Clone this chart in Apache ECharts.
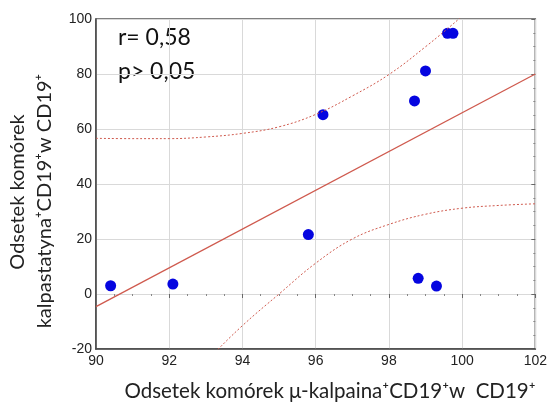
<!DOCTYPE html>
<html>
<head>
<meta charset="utf-8">
<script src="https://cdn.jsdelivr.net/npm/echarts@6/dist/echarts.min.js"></script>
<style>html,body{margin:0;padding:0;background:#fff;}#c{width:550px;height:403px;}</style>
</head>
<body>
<div id="c"></div>
<script>
var xTicks = [90, 92, 94, 96, 98, 100, 102];
var yTicks = [-20, 0, 20, 40, 60, 80, 100];
var pointsX = [90.4, 92.1, 95.8, 96.2, 98.7, 99.0, 99.6, 99.75, 98.8, 99.3];
var pointsY = [3.0, 3.6, 21.6, 65.2, 70.2, 81.1, 94.8, 94.8, 5.7, 2.9];
var fitX = [90, 102];
var fitY = [-4.6, 80];
var upperX = [90, 91, 92, 93, 94, 95, 96, 97, 98, 99, 100, 100.5];
var upperY = [56.6, 56.5, 56.5, 57.1, 58.4, 60.8, 65.3, 72.0, 79.8, 89.9, 101, 107];
var lowerX = [92, 93, 94, 95, 96, 97, 98, 99, 100, 101, 102];
var lowerY = [-37.5, -24.5, -11.5, 0.0, 11.2, 20.0, 25.3, 29.0, 31.2, 32.2, 32.8];
var statsText = ['r= 0,58', 'p> 0,05'];
var xTitle = 'Odsetek komórek μ-kalpaina⁺CD19⁺w  CD19⁺';
var yTitle = ['Odsetek komórek', 'kalpastatyna⁺CD19⁺w CD19⁺'];

function zip(a, b) { return a.map(function (v, i) { return [v, b[i]]; }); }

var chart = echarts.init(document.getElementById('c'), null, {renderer: 'canvas'});
var lineColor = '#cf5a4e';
var gridLine = {show: true, lineStyle: {color: '#d9d9d9', width: 1}};
var labelStyle = {color: '#222', fontFamily: 'Liberation Sans, Arial', fontSize: 14};
chart.setOption({
  animation: false,
  backgroundColor: '#fff',
  grid: {left: 96, top: 19, width: 441, height: 330, show: true, borderColor: '#555', borderWidth: 1.5, backgroundColor: 'transparent'},
  xAxis: [{
    type: 'value', min: 90, max: 102, interval: 2,
    axisLine: {show: true, onZero: false, lineStyle: {color: '#444', width: 1.5}},
    axisTick: {show: false},
    splitLine: gridLine,
    axisLabel: Object.assign({margin: 5, formatter: function (v) { return xTicks.indexOf(v) >= 0 ? String(v) : ''; }}, labelStyle)
  }, {
    type: 'value', position: 'top', min: 90, max: 102, interval: 2,
    axisLine: {show: false}, axisLabel: {show: false}, splitLine: {show: false},
    axisTick: {show: true, inside: true, length: 4, lineStyle: {color: '#666'}},
    minorTick: {show: true, splitNumber: 4, length: 2, lineStyle: {color: '#888'}}
  }],
  yAxis: [{
    type: 'value', min: -20, max: 100, interval: 20,
    axisLine: {show: true, onZero: false, lineStyle: {color: '#444', width: 1.5}},
    axisTick: {show: false},
    splitLine: gridLine,
    axisLabel: Object.assign({margin: 4, formatter: function (v) { return yTicks.indexOf(v) >= 0 ? String(v) : ''; }}, labelStyle)
  }, {
    type: 'value', position: 'right', min: -20, max: 100, interval: 20,
    axisLine: {show: false}, axisLabel: {show: false}, splitLine: {show: false},
    axisTick: {show: true, inside: true, length: 4, lineStyle: {color: '#666'}},
    minorTick: {show: true, splitNumber: 4, length: 2, lineStyle: {color: '#888'}}
  }],
  series: [{
    type: 'line', data: zip(upperX, upperY), symbol: 'none', smooth: 0.4, clip: true,
    lineStyle: {color: lineColor, width: 1, type: [2, 2]}
  }, {
    type: 'line', data: zip(lowerX, lowerY), symbol: 'none', smooth: 0.4, clip: true,
    lineStyle: {color: lineColor, width: 1, type: [2, 2]}
  }, {
    type: 'line', data: zip(fitX, fitY), symbol: 'none', clip: true,
    lineStyle: {color: lineColor, width: 1.3}
  }, {
    type: 'scatter', data: zip(pointsX, pointsY), symbol: 'circle', symbolSize: 11,
    itemStyle: {color: '#0505e0', opacity: 1}
  }],
  graphic: [
    {type: 'text', left: 118, top: 26, style: {text: statsText[0], font: '23px Lato, "Open Sans", sans-serif', fill: '#111'}},
    {type: 'text', left: 118, top: 60, style: {text: statsText[1], font: '23px Lato, "Open Sans", sans-serif', fill: '#111'}},
    {type: 'text', x: 330, y: 391, style: {text: xTitle, font: '20.5px Lato, "Open Sans", sans-serif', fill: '#222', align: 'center', verticalAlign: 'middle'}},
    {type: 'text', x: 18, y: 192, rotation: Math.PI / 2, style: {text: yTitle[0], font: '20px Lato, "Open Sans", sans-serif', fill: '#222', align: 'center', verticalAlign: 'middle'}},
    {type: 'text', x: 45, y: 201, rotation: Math.PI / 2, style: {text: yTitle[1], font: '20px Lato, "Open Sans", sans-serif', fill: '#222', align: 'center', verticalAlign: 'middle'}}
  ]
});
</script>
</body>
</html>
